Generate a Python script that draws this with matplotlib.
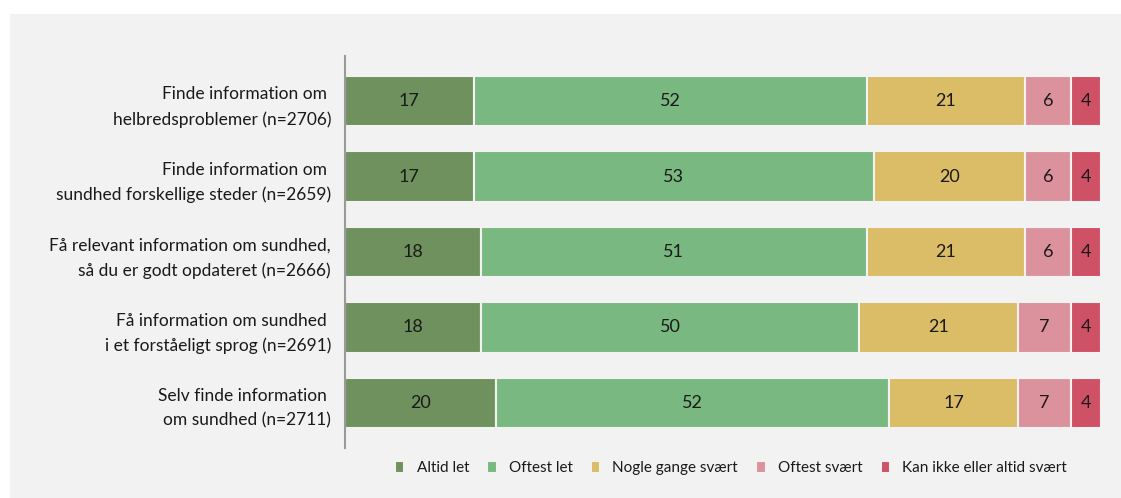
import matplotlib.pyplot as plt
from matplotlib.patches import Rectangle
import numpy as np

categories = [
    "Finde information om \nhelbredsproblemer (n=2706)",
    "Finde information om \nsundhed forskellige steder (n=2659)",
    "Få relevant information om sundhed,\nså du er godt opdateret (n=2666)",
    "Få information om sundhed \ni et forståeligt sprog (n=2691)",
    "Selv finde information \nom sundhed (n=2711)",
]
series = ["Altid let", "Oftest let", "Nogle gange svært", "Oftest svært",
          "Kan ikke eller altid svært"]
altid_let = [17, 17, 18, 18, 20]
oftest_let = [52, 53, 51, 50, 52]
nogle_gange = [21, 20, 21, 21, 17]
oftest_svaert = [6, 6, 6, 7, 7]
kan_ikke = [4, 4, 4, 4, 4]
colors = ["#6f915e", "#7ab881", "#dbbc67", "#db929c", "#cf5166"]

values = [altid_let, oftest_let, nogle_gange, oftest_svaert, kan_ikke]

plt.rcParams['font.family'] = ['Lato', 'DejaVu Sans']

fig = plt.figure(figsize=(11.21, 4.98), dpi=100)
fig.patch.set_facecolor("white")
# light grey panel behind the chart
fig.add_artist(Rectangle((10 / 1121, 0), 1, 1 - 14 / 498, transform=fig.transFigure,
                         facecolor="#f2f2f2", edgecolor="none", zorder=-10))

ax = fig.add_axes([345 / 1121, 50 / 498, 756 / 1121, 392 / 498])
ax.set_facecolor("none")

y = np.arange(len(categories))
left = np.zeros(len(categories))
for name, vals, c in zip(series, values, colors):
    vals = np.array(vals, dtype=float)
    ax.barh(y, vals, left=left, height=0.67, color=c, edgecolor="#f2f2f2",
            linewidth=1.5, label=name)
    for yi, l, v in zip(y, left, vals):
        ax.text(l + v / 2, yi, f"{v:.0f}", ha="center", va="center",
                fontsize=13, color="#1a1a1a")
    left += vals

ax.set_xlim(0, 100)
ax.set_ylim(len(categories) - 0.4, -0.6)
ax.set_yticks(y)
ax.set_yticklabels(categories, fontsize=12.5, color="#1a1a1a", linespacing=1.65)
ax.tick_params(axis="y", length=0, pad=10)
ax.set_xticks([])
for s in ["top", "right", "bottom"]:
    ax.spines[s].set_visible(False)
ax.spines["left"].set_color("#9a9a9a")
ax.spines["left"].set_linewidth(1.5)

ax.legend(loc="center", bbox_to_anchor=(731 / 1121, 30 / 498),
          bbox_transform=fig.transFigure, ncol=5, frameon=False,
          fontsize=11, handlelength=0.6, handleheight=0.8, handletextpad=0.8,
          columnspacing=1.2, labelcolor="#1a1a1a")

fig.savefig("out.png", dpi=100, facecolor=fig.get_facecolor())
